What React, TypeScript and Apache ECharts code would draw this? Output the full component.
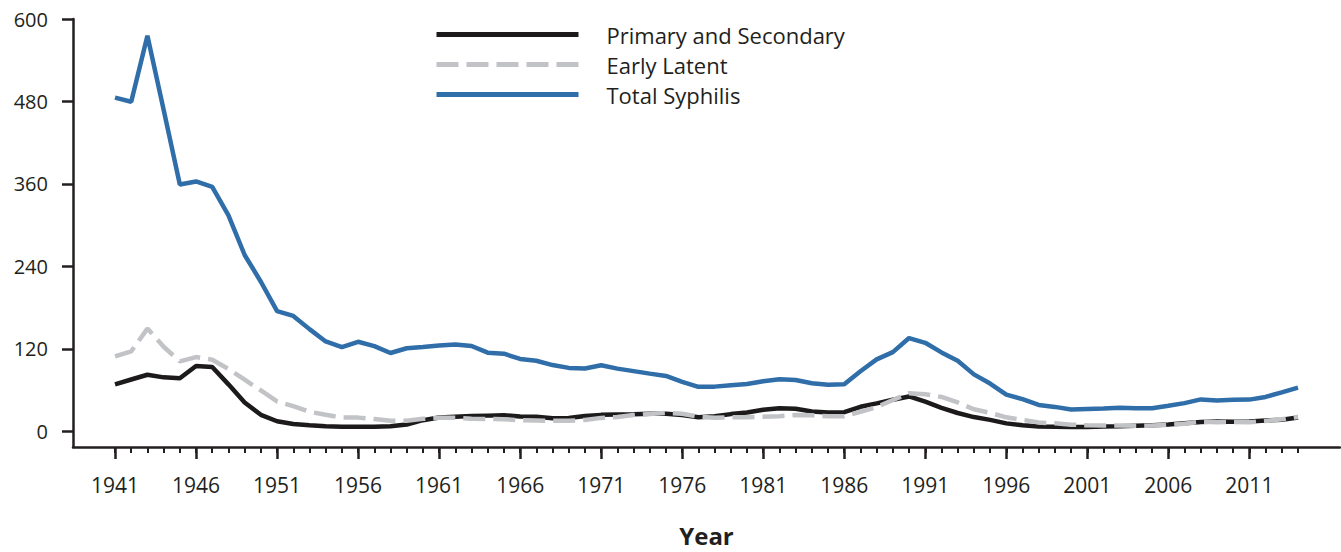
import React, { useEffect, useRef } from "react";
import * as echarts from "echarts";

const FIRST_YEAR = 1941;
const LAST_YEAR = 2014;
const years: number[] = [];
for (let y = FIRST_YEAR; y <= LAST_YEAR; y++) years.push(y);

const xMajorTicks = [1941, 1946, 1951, 1956, 1961, 1966, 1971, 1976, 1981, 1986, 1991, 1996, 2001, 2006, 2011];
const yTicks = [0, 120, 240, 360, 480, 600];

// Cases in thousands
const primarySecondary = [
  68.2, 75.3, 82.2, 78.4, 77.0, 95.0, 93.5, 68.2, 41.9, 23.9,
  14.5, 10.4, 8.6, 7.1, 6.5, 6.4, 6.6, 7.2, 9.8, 16.1,
  19.9, 21.1, 22.0, 22.7, 23.3, 21.4, 21.1, 19.0, 19.1, 22.0,
  23.8, 24.4, 24.8, 25.4, 25.6, 23.7, 20.4, 21.7, 24.9, 27.2,
  31.3, 33.6, 32.7, 28.6, 27.1, 27.7, 35.6, 40.5, 45.8, 50.6,
  43.0, 34.0, 26.5, 20.6, 16.5, 11.4, 8.6, 7.0, 6.6, 6.0,
  6.1, 6.9, 7.2, 8.0, 8.7, 9.8, 11.5, 13.5, 14.0, 13.8,
  14.0, 15.7, 16.7, 20.0,
];

const earlyLatent = [
  109.0, 116.2, 149.4, 123.0, 101.7, 107.9, 104.1, 90.6, 75.0, 59.3,
  43.3, 36.5, 28.3, 23.9, 20.1, 19.8, 17.8, 15.4, 15.1, 18.0,
  19.5, 19.6, 18.2, 17.8, 17.5, 16.0, 15.6, 15.2, 15.4, 16.3,
  19.4, 20.8, 23.6, 25.1, 26.6, 25.4, 21.3, 19.6, 20.5, 20.3,
  21.0, 21.9, 23.7, 23.1, 21.7, 21.7, 28.2, 35.1, 45.4, 55.4,
  53.9, 49.9, 41.9, 32.0, 26.7, 20.2, 16.6, 12.7, 11.5, 9.5,
  8.7, 8.4, 8.4, 7.8, 8.2, 9.2, 10.8, 14.0, 13.1, 13.6,
  13.2, 15.0, 17.4, 20.7,
];

const totalSyphilis = [
  485.6, 479.6, 575.6, 467.8, 359.1, 363.6, 355.6, 314.3, 256.5, 217.6,
  174.9, 167.8, 148.6, 130.7, 122.4, 130.2, 123.8, 113.9, 120.8, 122.5,
  124.7, 126.2, 124.1, 114.3, 112.8, 105.2, 102.6, 96.3, 92.2, 91.4,
  96.0, 91.1, 87.5, 83.8, 80.4, 71.8, 64.6, 64.9, 67.0, 68.8,
  72.8, 75.6, 74.6, 69.9, 67.6, 68.2, 87.3, 104.5, 115.1, 135.6,
  128.7, 114.7, 102.6, 82.7, 69.4, 53.2, 46.7, 38.3, 35.4, 31.6,
  32.3, 32.9, 34.3, 33.4, 33.3, 37.0, 40.9, 46.3, 44.8, 45.8,
  46.0, 49.9, 56.5, 63.5,
];

const seriesNames = ["Primary and Secondary", "Early Latent", "Total Syphilis"];

const FONT = "'Open Sans', sans-serif";
const TEXT_COLOR = "#231f20";

const toPairs = (vals: number[]) => vals.map((v, i) => [years[i], v]);

export default function App() {
  const ref = useRef<HTMLDivElement>(null);
  useEffect(() => {
    if (!ref.current) return;
    const chart = echarts.init(ref.current, undefined, { renderer: "svg" });
    const xPad = 42 / 16.2;
    const xMin = FIRST_YEAR - xPad;
    const xMax = LAST_YEAR + xPad;
    const yMin = -16 / 418 * 600;
    chart.setOption({
      animation: false,
      backgroundColor: "#ffffff",
      grid: { left: 73, right: 1, top: 19, bottom: 99, containLabel: false },
      legend: {
        orient: "vertical",
        left: 429,
        top: 18,
        itemWidth: 142,
        itemHeight: 14,
        itemGap: 7,
        data: seriesNames,
        itemStyle: { opacity: 0, borderWidth: 0 },
        lineStyle: { width: 5 },
        textStyle: {
          fontFamily: FONT,
          fontSize: 22,
          color: TEXT_COLOR,
          lineHeight: 23,
          padding: [0, 0, 0, 23],
        },
      },
      xAxis: [
        {
          type: "value",
          min: xMin,
          max: xMax,
          position: "bottom",
          axisLine: { show: true, onZero: false, lineStyle: { color: TEXT_COLOR, width: 2.5 } },
          axisTick: { show: true, customValues: years, length: 6, lineStyle: { color: TEXT_COLOR, width: 2 } },
          axisLabel: { show: false },
          splitLine: { show: false },
        },
        {
          type: "value",
          min: xMin,
          max: xMax,
          position: "bottom",
          name: "Year",
          nameLocation: "middle",
          nameGap: 76,
          nameTextStyle: { fontFamily: FONT, fontSize: 24, fontWeight: "bold", color: TEXT_COLOR },
          axisLine: { show: false, onZero: false },
          axisTick: { show: true, customValues: xMajorTicks, length: 12, lineStyle: { color: TEXT_COLOR, width: 2.5 } },
          axisLabel: {
            show: true,
            customValues: xMajorTicks,
            margin: 27,
            fontFamily: FONT,
            fontSize: 21,
            color: TEXT_COLOR,
            formatter: (v: number) => String(Math.round(v)),
          },
          splitLine: { show: false },
        },
      ],
      yAxis: {
        type: "value",
        min: yMin,
        max: 600,
        axisLine: { show: true, onZero: false, lineStyle: { color: TEXT_COLOR, width: 2.5 } },
        axisTick: { show: true, customValues: yTicks, length: 11, lineStyle: { color: TEXT_COLOR, width: 2.5 } },
        axisLabel: {
          show: true,
          customValues: yTicks,
          margin: 25,
          fontFamily: FONT,
          fontSize: 20,
          color: TEXT_COLOR,
        },
        splitLine: { show: false },
      },
      series: [
        {
          name: seriesNames[0],
          type: "line",
          xAxisIndex: 0,
          data: toPairs(primarySecondary),
          symbol: "none",
          lineStyle: { color: "#1c1a1b", width: 4.5 },
          itemStyle: { color: "#1c1a1b" },
          z: 2,
        },
        {
          name: seriesNames[1],
          type: "line",
          xAxisIndex: 0,
          data: toPairs(earlyLatent),
          symbol: "none",
          lineStyle: { color: "#c2c3c6", width: 4.5, type: [22, 8] },
          itemStyle: { color: "#c2c3c6" },
          z: 3,
        },
        {
          name: seriesNames[2],
          type: "line",
          xAxisIndex: 0,
          data: toPairs(totalSyphilis),
          symbol: "none",
          lineStyle: { color: "#2f6ea8", width: 4.5 },
          itemStyle: { color: "#2f6ea8" },
          z: 4,
        },
      ],
    });
    return () => chart.dispose();
  }, []);
  return <div ref={ref} style={{ width: 1341, height: 552, position: "absolute", left: 0, top: 0 }} />;
}
